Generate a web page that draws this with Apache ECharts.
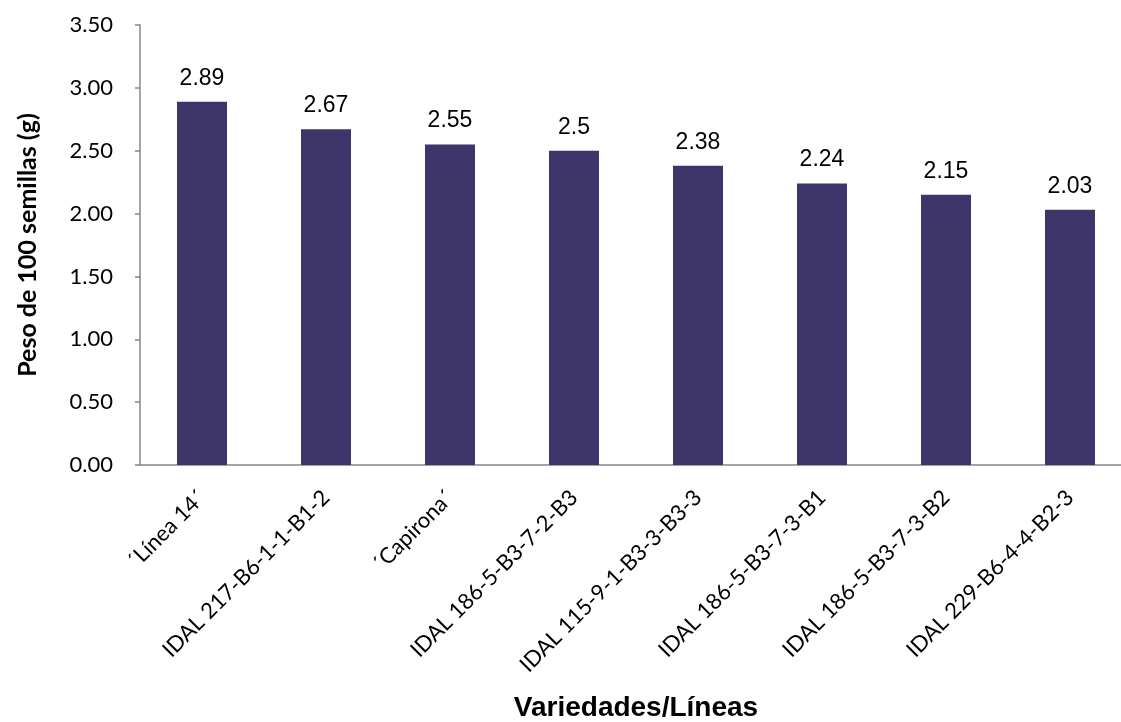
<!DOCTYPE html>
<html>
<head>
<meta charset="utf-8">
<script src="https://cdn.jsdelivr.net/npm/echarts@6/dist/echarts.min.js"></script>
<style>
  html, body { margin: 0; padding: 0; background: #ffffff; }
  #chart { width: 1121px; height: 722px; }
</style>
</head>
<body>
<div id="chart"></div>
<script>
// Varieties / lines and their 100-seed weight (g)
const categories = [
  '´Línea 14´',
  'IDAL 217-B6-1-1-B1-2',
  '´Capirona´',
  'IDAL 186-5-B3-7-2-B3',
  'IDAL 115-9-1-B3-3-B3-3',
  'IDAL 186-5-B3-7-3-B1',
  'IDAL 186-5-B3-7-3-B2',
  'IDAL 229-B6-4-4-B2-3'
];
const seedWeight = [2.89, 2.67, 2.55, 2.5, 2.38, 2.24, 2.15, 2.03];

const axisGray = '#868686';
const chart = echarts.init(document.getElementById('chart'));
chart.setOption({
  animation: false,
  backgroundColor: '#ffffff',
  grid: {
    left: 140, right: -11, top: 25, bottom: 257,
    containLabel: false,
    outerBoundsMode: 'none'
  },
  xAxis: {
    type: 'category',
    data: categories,
    name: 'Variedades/Líneas',
    nameLocation: 'middle',
    nameGap: 229,
    nameTextStyle: { fontFamily: 'Liberation Sans, Arial', fontWeight: 'bold', fontSize: 28, color: '#000' },
    axisLine: { lineStyle: { color: axisGray, width: 1.5 } },
    axisTick: { show: false },
    axisLabel: {
      rotate: 45,
      interval: 0,
      margin: 29,
      fontFamily: 'Lato, Open Sans, sans-serif',
      fontSize: 22,
      color: '#000'
    }
  },
  yAxis: {
    type: 'value',
    min: 0,
    max: 3.5,
    interval: 0.5,
    name: 'Peso de 100 semillas (g)',
    nameLocation: 'middle',
    nameGap: 100,
    nameRotate: 90,
    nameTextStyle: { fontFamily: 'Lato, Open Sans, sans-serif', fontWeight: 'bold', fontSize: 25, color: '#000' },
    axisLine: { show: true, lineStyle: { color: axisGray, width: 1.5 } },
    axisTick: { show: true, length: 5, lineStyle: { color: axisGray, width: 1.5 } },
    splitLine: { show: false },
    axisLabel: {
      margin: 27,
      formatter: v => v.toFixed(2),
      fontFamily: 'Lato, Open Sans, sans-serif',
      fontSize: 22,
      color: '#000'
    }
  },
  series: [{
    type: 'bar',
    data: seedWeight,
    barWidth: 50,
    itemStyle: { color: '#3d3569' },
    label: {
      show: true,
      position: 'top',
      distance: 12,
      fontFamily: 'Liberation Sans, Arial',
      fontSize: 23,
      color: '#000',
      formatter: p => String(p.value)
    }
  }]
});
</script>
</body>
</html>
